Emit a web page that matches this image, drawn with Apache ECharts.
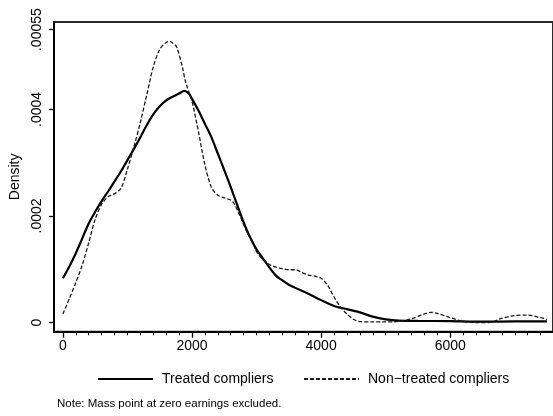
<!DOCTYPE html>
<html>
<head>
<meta charset="utf-8">
<script src="https://cdn.jsdelivr.net/npm/echarts@6/dist/echarts.min.js"></script>
<style>html,body{margin:0;padding:0;background:#fff;}#c{width:553px;height:416px;}</style>
</head>
<body>
<div id="c"></div>
<script>
// ---- data ----
var treatedX = [0,100,200,300,400,500,600,700,800,900,1000,1100,1200,1300,1400,1500,1600,1700,1800,1880,1950,2000,2100,2200,2300,2400,2500,2600,2700,2800,2900,3000,3100,3200,3300,3400,3500,3600,3800,4000,4200,4400,4600,4800,5000,5200,5500,6000,6500,7000,7500];
var treatedY = [0.000083,0.000105,0.000130,0.000158,0.000186,0.000208,0.000228,0.000246,0.000265,0.000284,0.000305,0.000326,0.000348,0.000371,0.000391,0.000406,0.000417,0.000424,0.000430,0.000435,0.000430,0.000420,0.000398,0.000373,0.000348,0.000317,0.000286,0.000254,0.000221,0.000188,0.000160,0.000137,0.000120,0.000103,0.000088,0.000079,0.000071,0.000065,0.000054,0.000042,0.000031,0.000025,0.000019,0.000011,0.000006,0.0000035,0.000003,0.0000025,0.0000015,0.000002,0.000002];

var nonTreatedX = [0,100,200,300,400,500,600,700,800,900,1000,1100,1200,1300,1400,1500,1600,1650,1700,1760,1850,1900,2000,2100,2200,2300,2400,2500,2600,2650,2750,2850,2950,3000,3100,3200,3300,3400,3500,3600,3700,3800,3900,4000,4100,4200,4300,4400,4500,4600,4800,5000,5200,5400,5600,5700,5800,6000,6200,6400,6600,6800,7000,7200,7400,7500];
var nonTreatedY = [0.000016,0.000045,0.000075,0.000108,0.000150,0.000194,0.000222,0.000236,0.000242,0.000252,0.000288,0.000330,0.000376,0.000428,0.000480,0.000513,0.000526,0.000528,0.000525,0.000518,0.000480,0.000452,0.000415,0.000358,0.000296,0.000254,0.000239,0.000234,0.000230,0.000224,0.000198,0.000170,0.000147,0.000133,0.000118,0.000109,0.000104,0.000101,0.000099,0.000099,0.000094,0.000089,0.000087,0.000083,0.000070,0.000048,0.000029,0.000016,0.000006,0.0000015,0.000001,0.000001,0.000002,0.000007,0.000016,0.000019,0.000017,0.000009,0.000002,0.0,0.0,0.000008,0.000013,0.000014,0.000009,0.000006];

var xTickValues = [0,2000,4000,6000];
var xTickLabels = ['0','2000','4000','6000'];
var xMinorTicks = [200,400,600,800,1000,1200,1400,1600,1800,2200,2400,2600,2800,3000,3200,3400,3600,3800,4200,4400,4600,4800,5000,5200,5400,5600,5800,6200,6400,6600,6800,7000,7200,7400];
var yTickValues = [0,0.0002,0.0004,0.00055];
var yTickLabels = ['0','.0002','.0004','.00055'];

var seriesNames = ['Treated compliers','Non\u2212treated compliers'];
var yTitle = 'Density';
var noteText = 'Note: Mass point at zero earnings excluded.';

function pairs(xs, ys){ return xs.map(function(x,i){ return [x, ys[i]]; }); }
function lookup(vals, labels, v){
  for (var i=0;i<vals.length;i++){ if (Math.abs(vals[i]-v) < 1e-9*Math.max(1,Math.abs(v))+1e-12) return labels[i]; }
  return '';
}

var FONT = 'Liberation Sans';
var chart = echarts.init(document.getElementById('c'));
var X_MIN = -138, X_MAX = 7592;
var Y_MIN = -0.0000173, Y_MAX = 0.0005643;

var legendCommon = {
  top: 372, padding: 0, itemWidth: 55, itemHeight: 14, itemGap: 0,
  itemStyle: { color: 'rgba(0,0,0,0)', borderWidth: 0, opacity: 0 },
  textStyle: { fontSize: 14, color: '#000', fontFamily: FONT, padding: [0,0,0,4] }
};

chart.setOption({
  animation: false,
  backgroundColor: '#fff',
  textStyle: { fontFamily: FONT },
  title: {
    text: noteText,
    left: 57, top: 398, padding: 0,
    textStyle: { fontSize: 11.5, fontWeight: 'normal', color: '#000', fontFamily: FONT }
  },
  legend: [
    Object.assign({}, legendCommon, { data: [seriesNames[0]], left: 97 }),
    Object.assign({}, legendCommon, { data: [seriesNames[1]], left: 303 })
  ],
  grid: {
    left: 54, top: 22, right: -6, bottom: 84.3,
    show: true, borderColor: '#2a2a2a', borderWidth: 2, backgroundColor: 'transparent',
    containLabel: false
  },
  xAxis: [
    {
      type: 'value', min: X_MIN, max: X_MAX,
      axisLine: { show: true, onZero: false, lineStyle: { color: '#000', width: 2 } },
      axisTick: { show: true, length: 6, customValues: xTickValues, lineStyle: { color: '#000', width: 1.3 } },
      axisLabel: { show: true, customValues: xTickValues, margin: 7, fontSize: 14, color: '#000', fontFamily: FONT,
        formatter: function(v){ return lookup(xTickValues, xTickLabels, v); } },
      splitLine: { show: false }
    },
    {
      type: 'value', min: X_MIN, max: X_MAX, position: 'bottom',
      axisLine: { show: false, onZero: false },
      axisTick: { show: true, length: 3.5, customValues: xMinorTicks, lineStyle: { color: '#000', width: 1.1 } },
      axisLabel: { show: false },
      splitLine: { show: false }
    }
  ],
  yAxis: {
    type: 'value', min: Y_MIN, max: Y_MAX,
    name: yTitle, nameLocation: 'middle', nameGap: 24,
    nameTextStyle: { fontSize: 14, color: '#000', fontFamily: FONT },
    axisLine: { show: true, onZero: false, lineStyle: { color: '#000', width: 2 } },
    axisTick: { show: true, length: 5, customValues: yTickValues, lineStyle: { color: '#000', width: 1.3 } },
    axisLabel: { show: true, customValues: yTickValues, rotate: 90, margin: 10, fontSize: 14, color: '#000', fontFamily: FONT,
      formatter: function(v){ return lookup(yTickValues, yTickLabels, v); } },
    splitLine: { show: false }
  },
  series: [
    {
      name: seriesNames[0], type: 'line', xAxisIndex: 0, data: pairs(treatedX, treatedY),
      showSymbol: false, symbol: 'none', smooth: 0.3,
      lineStyle: { color: '#000', width: 2.2, type: 'solid' },
      itemStyle: { color: '#000' }
    },
    {
      name: seriesNames[1], type: 'line', xAxisIndex: 0, data: pairs(nonTreatedX, nonTreatedY),
      showSymbol: false, symbol: 'none', smooth: 0.3,
      lineStyle: { color: '#1a1a1a', width: 1.3, type: [4, 2] },
      itemStyle: { color: '#1a1a1a' }
    }
  ]
});
</script>
</body>
</html>
